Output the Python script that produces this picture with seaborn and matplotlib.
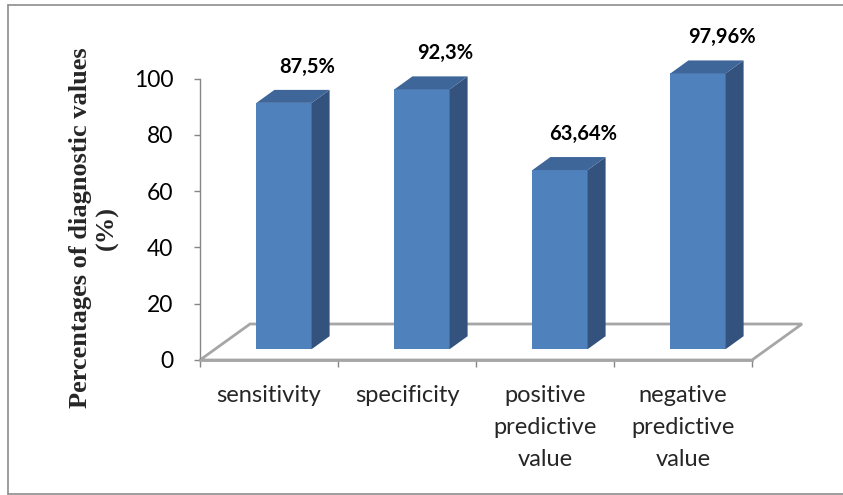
import matplotlib
matplotlib.use("Agg")
import matplotlib.pyplot as plt
from matplotlib.patches import Polygon
from matplotlib.lines import Line2D
import pandas as pd
import seaborn as sns

# ---- data ----
categories = ["sensitivity", "specificity",
              "positive\npredictive\nvalue", "negative\npredictive\nvalue"]
values = [87.5, 92.3, 63.64, 97.96]
value_labels = ["87,5%", "92,3%", "63,64%", "97,96%"]
y_ticks = [0, 20, 40, 60, 80, 100]

# ---- styling ----
FRONT = "#4F81BD"
SIDE = "#33527D"
TOP = "#3E6698"
AXIS_GREY = "#868686"
FLOOR_GREY = "#A6A6A6"

sns.set_theme(style="white")
plt.rcParams["font.family"] = ["Lato", "DejaVu Sans"]

W, H = 843, 495
fig = plt.figure(figsize=(W / 100, H / 100), dpi=100)
fig.patch.set_facecolor("white")

# plotting area: x from -0.5..3.5, y from 0..100
ax_left, ax_right, ax_bottom, ax_top = 200, 752, 360, 78.5
ax = fig.add_axes([ax_left / W, 1 - ax_bottom / H,
                   (ax_right - ax_left) / W, (ax_bottom - ax_top) / H])
px_x = (ax_right - ax_left) / 4.0          # pixels per category
px_y = (ax_bottom - ax_top) / 100.0        # pixels per percent

# oblique depth projection (pixels -> data units)
floor_dx, floor_dy = 50 / px_x, 36 / px_y  # full floor depth
front_dx, front_dy = 0.3 * floor_dx, 0.3 * floor_dy   # bar front plane
side_dx, side_dy = 18 / px_x, 13 / px_y                # bar depth

# floor
floor = Polygon([(-0.5, 0), (3.5, 0), (3.5 + floor_dx, floor_dy),
                 (-0.5 + floor_dx, floor_dy)], closed=True,
                facecolor="white", edgecolor=FLOOR_GREY, linewidth=2.0,
                zorder=1, clip_on=False)
ax.add_patch(floor)

df = pd.DataFrame({"metric": categories, "value": values})
sns.barplot(data=df, x="metric", y="value", width=0.40, color=FRONT,
            saturation=1, linewidth=0, ax=ax, zorder=4)

bars = list(ax.patches)[1:] if len(ax.patches) > len(values) else list(ax.patches)
for bar, lab in zip(bars, value_labels):
    bar.set_x(bar.get_x() + front_dx)
    bar.set_y(front_dy)
    bar.set_clip_on(False)
    x0, w, h, b = bar.get_x(), bar.get_width(), bar.get_height(), bar.get_y()
    side = Polygon([(x0 + w, b), (x0 + w + side_dx, b + side_dy),
                    (x0 + w + side_dx, b + h + side_dy), (x0 + w, b + h)],
                   closed=True, facecolor=SIDE, edgecolor="none",
                   zorder=4, clip_on=False)
    top = Polygon([(x0, b + h), (x0 + w, b + h),
                   (x0 + w + side_dx, b + h + side_dy),
                   (x0 + side_dx, b + h + side_dy)],
                  closed=True, facecolor=TOP, edgecolor="none",
                  zorder=4, clip_on=False)
    ax.add_patch(side)
    ax.add_patch(top)
    ax.annotate(lab, xy=(x0 + w / 2 + side_dx + 0.04, b + h + side_dy),
                xytext=(0, 23), textcoords="offset pixels",
                ha="center", va="center", fontsize=14.5, fontweight="bold",
                color="black", annotation_clip=False)

ax.set_xlim(-0.5, 3.5)
ax.set_ylim(0, 100)
ax.set_facecolor("none")

# y axis
ax.set_yticks(y_ticks)
ax.set_yticklabels([str(t) for t in y_ticks])
ax.tick_params(axis="y", which="major", direction="out", length=4.3,
               width=1.0, color=AXIS_GREY, pad=15, labelsize=16.5,
               labelcolor="black", left=True)

# x axis: separators as major ticks, category names on minor ticks
ax.set_xticks([-0.5, 0.5, 1.5, 2.5, 3.5])
ax.set_xticklabels([])
ax.set_xticks(range(len(categories)), minor=True)
ax.set_xticklabels(categories, minor=True, fontsize=17, linespacing=1.65,
                   va="top")
ax.tick_params(axis="x", which="major", direction="out", length=5,
               width=1.0, color=AXIS_GREY, bottom=True)
ax.tick_params(axis="x", which="minor", length=0, pad=18, bottom=True)
ax.set_xlabel("")

for s in ("top", "right"):
    ax.spines[s].set_visible(False)
ax.spines["left"].set_color(AXIS_GREY)
ax.spines["left"].set_linewidth(1.0)
ax.spines["bottom"].set_color(FLOOR_GREY)
ax.spines["bottom"].set_linewidth(2.0)

ax.set_ylabel("Percentages of diagnostic values\n(%)",
              fontfamily=["Liberation Serif", "DejaVu Serif"],
              fontweight="bold", fontsize=19, linespacing=1.2)
ax.yaxis.label.set_va("center")
ax.yaxis.set_label_coords((94 - ax_left) / (ax_right - ax_left),
                          (ax_bottom - 228) / (ax_bottom - ax_top))

# chart frame
for (x1, y1, x2, y2) in [(8, 5, 8, 494), (8, 5, W, 5), (8, 494, W, 494)]:
    fig.add_artist(Line2D([x1 / W, x2 / W], [1 - y1 / H, 1 - y2 / H],
                          transform=fig.transFigure, color="#8C8C8C",
                          linewidth=1.2))

fig.savefig("out.png", dpi=100)
